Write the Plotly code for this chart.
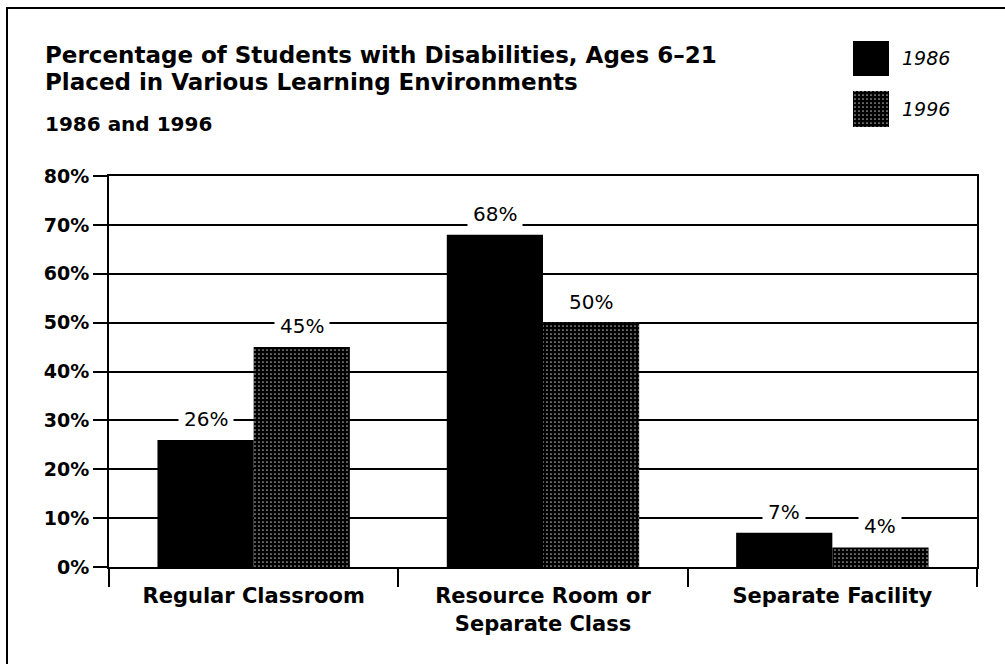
import plotly.graph_objects as go

categories = ["Regular Classroom", "Resource Room or<br>Separate Class", "Separate Facility"]
values_1986 = [26, 68, 7]
values_1996 = [45, 50, 4]
series_names = ["1986", "1996"]
y_ticks = [0, 10, 20, 30, 40, 50, 60, 70, 80]

W, H = 1005, 664
FONT = "DejaVu Sans"

def px_x(p):
    return p / W

def px_y(p):
    return 1 - p / H

PATTERN = dict(shape=".", fgcolor="#b0b0b0", bgcolor="black",
               size=4, solidity=0.14, fillmode="replace")

fig = go.Figure()

fig.add_trace(go.Bar(
    x=categories, y=values_1986, name=series_names[0],
    marker=dict(color="black", line=dict(width=0)),
    showlegend=False,
))
fig.add_trace(go.Bar(
    x=categories, y=values_1996, name=series_names[1],
    marker=dict(color="black", line=dict(width=0), pattern=PATTERN),
    showlegend=False,
))

# value labels above bars (white background breaks the gridlines)
bar_half = 48
for vals, shift in [(values_1986, -bar_half), (values_1996, bar_half)]:
    for c, v in zip(categories, vals):
        fig.add_annotation(x=c, y=v, xref="x", yref="y", text=f"{v}%",
                           showarrow=False, xshift=shift, yshift=21,
                           yanchor="middle", bgcolor="white", borderpad=5,
                           font=dict(family=FONT, size=20, color="black"))

# legend swatches drawn on a small auxiliary axis
fig.add_trace(go.Bar(x=[0], y=[35], base=[51], width=1, offset=-0.5,
                     marker=dict(color="black", line=dict(width=0)),
                     xaxis="x2", yaxis="y2", showlegend=False, hoverinfo="skip"))
fig.add_trace(go.Bar(x=[0], y=[36], base=[0], width=1, offset=-0.5,
                     marker=dict(color="black", line=dict(width=0), pattern=PATTERN),
                     xaxis="x2", yaxis="y2", showlegend=False, hoverinfo="skip"))

fig.update_layout(
    width=W, height=H, autosize=False,
    margin=dict(l=0, r=0, t=0, b=0, autoexpand=False),
    paper_bgcolor="white", plot_bgcolor="white",
    barmode="group", bargap=0.335, bargroupgap=0,
    font=dict(family=FONT, color="black"),
    xaxis=dict(domain=[px_x(109), px_x(977)], type="category", automargin=False,
               showline=True, linecolor="black", linewidth=2, mirror=True,
               ticks="outside", tickson="boundaries", ticklen=18, tickwidth=1.5,
               tickcolor="black", showgrid=False, ticklabelstandoff=9,
               tickfont=dict(family=FONT, size=21, color="black", weight="bold")),
    yaxis=dict(domain=[px_y(567), px_y(176)], range=[0, 80], automargin=False,
               tickvals=y_ticks, ticktext=[f"{t}%" for t in y_ticks],
               showline=True, linecolor="black", linewidth=2, mirror=True,
               ticks="outside", ticklen=14, tickwidth=1.5, tickcolor="black",
               showgrid=True, gridcolor="black", gridwidth=1.5,
               zeroline=False,
               tickfont=dict(family=FONT, size=19, color="black", weight="bold")),
    xaxis2=dict(domain=[px_x(853), px_x(889)], range=[-0.5, 0.5], visible=False,
                anchor="y2", fixedrange=True, automargin=False),
    yaxis2=dict(domain=[px_y(127), px_y(41)], range=[0, 86], visible=False,
                anchor="x2", fixedrange=True, automargin=False),
)

# Title block
for txt, ypx, size in [("Percentage of Students with Disabilities, Ages 6–21", 55, 23),
                       ("Placed in Various Learning Environments", 82, 23),
                       ("1986 and 1996", 124, 20)]:
    fig.add_annotation(xref="paper", yref="paper", x=px_x(43), y=px_y(ypx),
                       xanchor="left", yanchor="middle", showarrow=False,
                       text=f"<b>{txt}</b>",
                       font=dict(family=FONT, size=size, color="black"))

# legend labels
for name, ypx in [(series_names[0], 58), (series_names[1], 109)]:
    fig.add_annotation(xref="paper", yref="paper", x=px_x(900), y=px_y(ypx),
                       xanchor="left", yanchor="middle", showarrow=False,
                       text=f"<i>{name}</i>",
                       font=dict(family=FONT, size=19, color="black"))

# outer frame (left and top edges)
fig.add_shape(type="line", xref="paper", yref="paper",
              x0=px_x(7), x1=px_x(7), y0=px_y(680), y1=px_y(8),
              line=dict(color="black", width=2), layer="above")
fig.add_shape(type="line", xref="paper", yref="paper",
              x0=px_x(6), x1=px_x(1010), y0=px_y(8), y1=px_y(8),
              line=dict(color="black", width=2), layer="above")

post = """
document.documentElement.style.margin='0';
document.body.style.margin='0';
document.body.style.padding='0';
document.body.style.overflow='hidden';
var gd = document.getElementById('{plot_id}');
Plotly.relayout(gd, {width: 1005, height: 664, autosize: false});
"""

fig.write_html("out.html", post_script=post, config=dict(displayModeBar=False))
